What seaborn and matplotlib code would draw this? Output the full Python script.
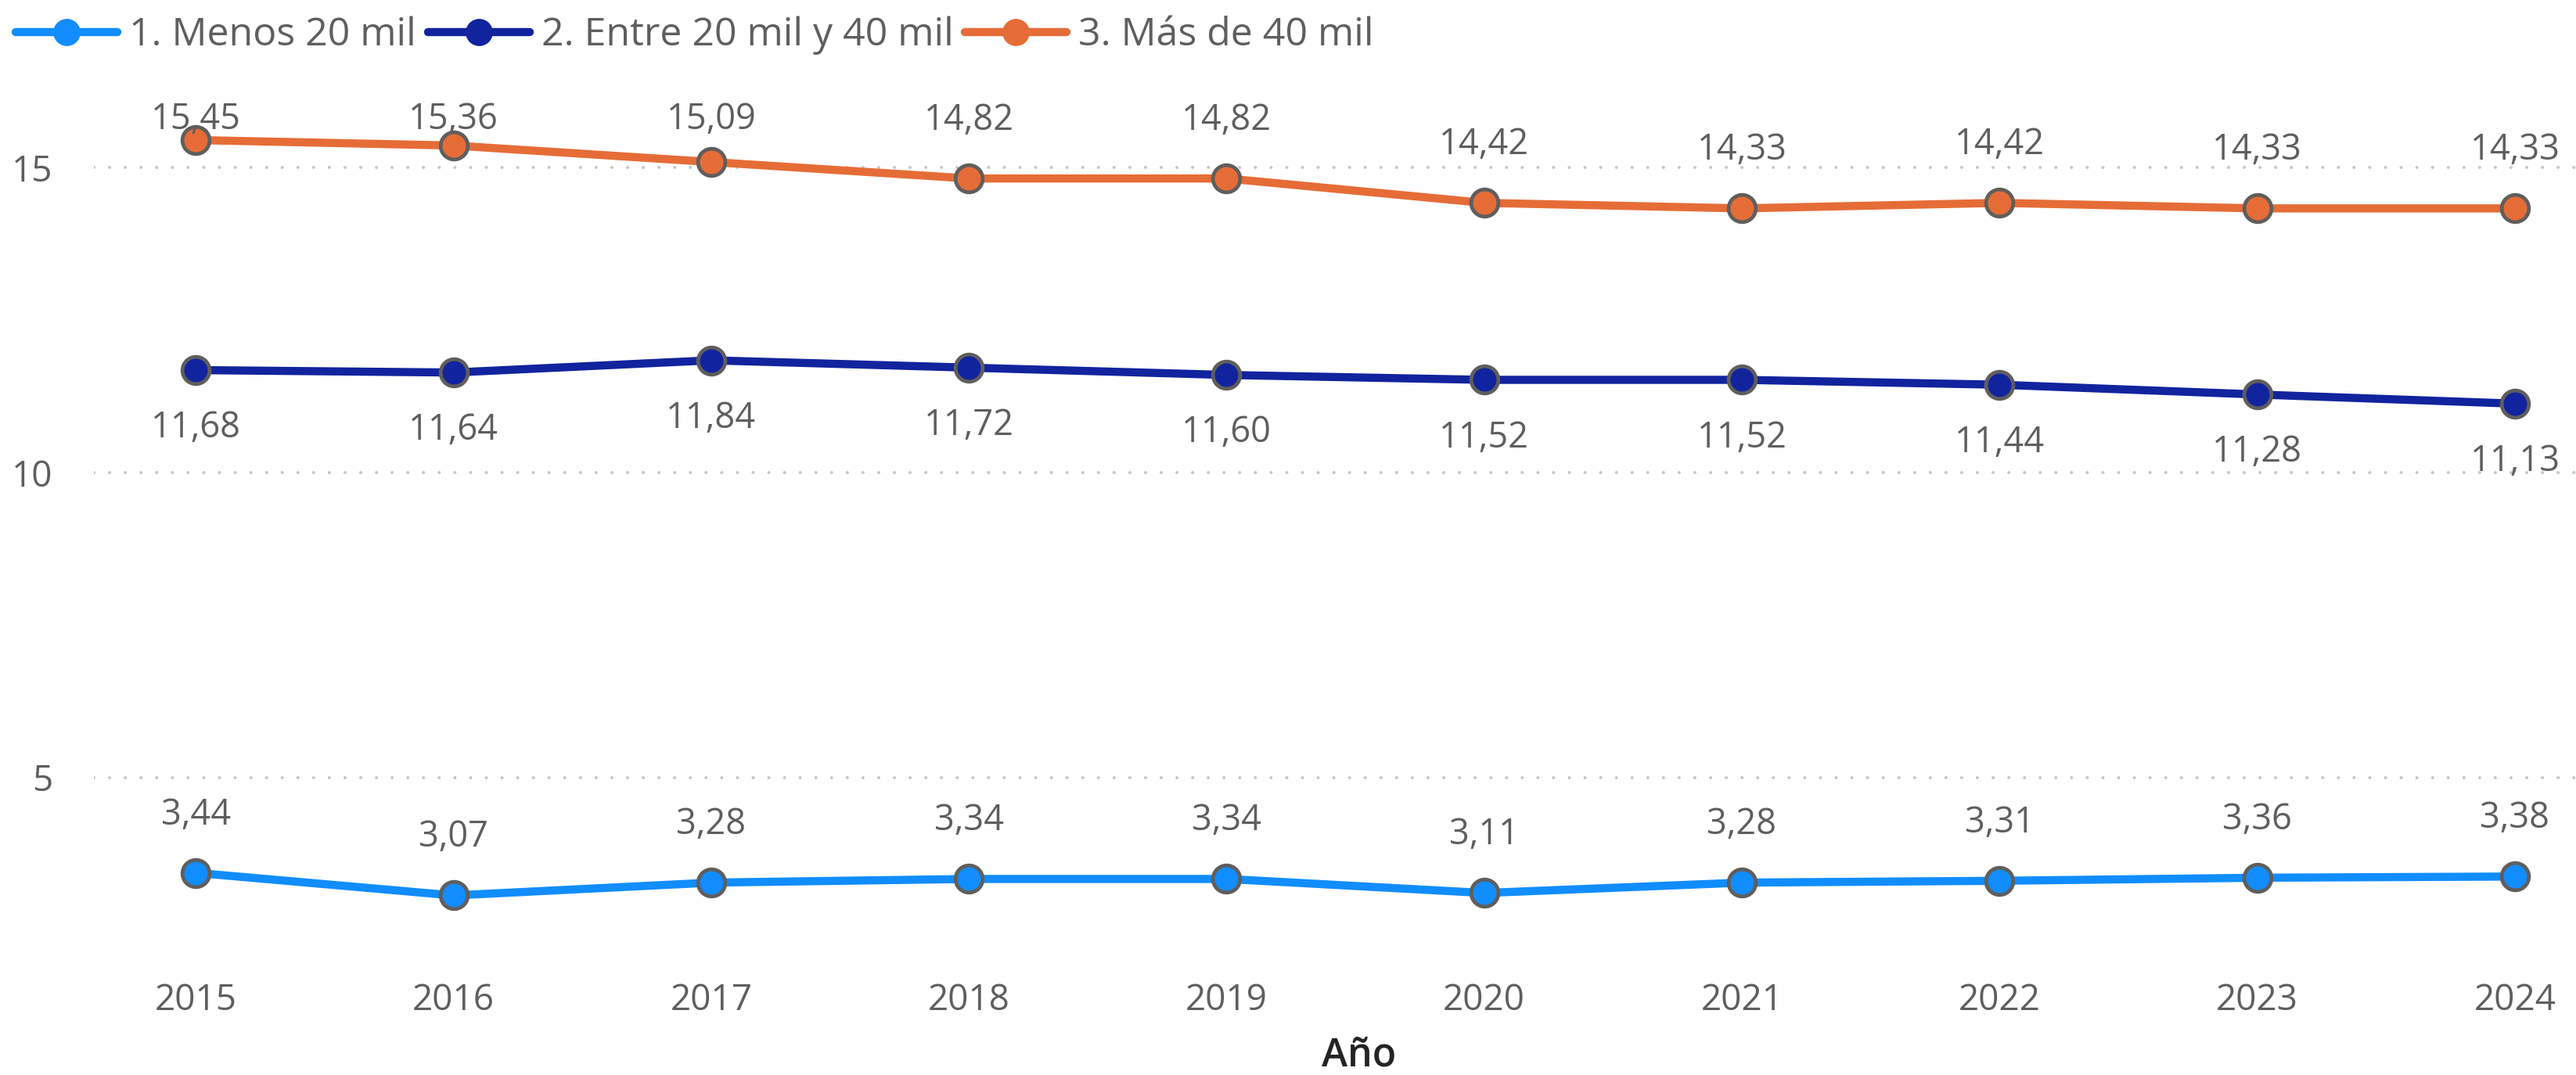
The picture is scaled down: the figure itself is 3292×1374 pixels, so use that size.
import matplotlib
matplotlib.use("Agg")
import matplotlib.pyplot as plt
import seaborn as sns
import pandas as pd
from matplotlib.lines import Line2D

years = [2015, 2016, 2017, 2018, 2019, 2020, 2021, 2022, 2023, 2024]
menos20 = [3.44, 3.07, 3.28, 3.34, 3.34, 3.11, 3.28, 3.31, 3.36, 3.38]
entre20_40 = [11.68, 11.64, 11.84, 11.72, 11.60, 11.52, 11.52, 11.44, 11.28, 11.13]
mas40 = [15.45, 15.36, 15.09, 14.82, 14.82, 14.42, 14.33, 14.42, 14.33, 14.33]
series_names = ["1. Menos 20 mil", "2. Entre 20 mil y 40 mil", "3. Más de 40 mil"]
colors = ["#118DFF", "#12239E", "#E66C37"]
yticks = [5, 10, 15]

sns.set_theme(style="white")
plt.rcParams["font.family"] = ["Open Sans", "DejaVu Sans"]
TXT = "#605E5C"

df = pd.concat([
    pd.DataFrame({"Año": years, "valor": vals, "serie": name})
    for name, vals in zip(series_names, [menos20, entre20_40, mas40])
])

fig = plt.figure(figsize=(32.92, 13.74), dpi=100)
ax = fig.add_axes([0.0365, 0.1063, 0.9635, 0.8253])

sns.lineplot(data=df, x="Año", y="valor", hue="serie", palette=colors,
             hue_order=series_names, ax=ax, linewidth=7.5, marker="o",
             markersize=25, markeredgecolor="#605E5C", markeredgewidth=3.4,
             legend=False, zorder=3)

ax.set_xlim(2014.605, 2024.237)
ax.set_ylim(2.0, 16.54)
ax.set_xticks(years)
ax.set_xticklabels([str(y) for y in years])
ax.set_yticks(yticks)
ax.set_yticklabels([str(t) for t in yticks])
ax.tick_params(axis="both", colors=TXT, labelsize=33, length=0)
ax.tick_params(axis="y", pad=38)
ax.tick_params(axis="x", pad=20)
for s in ax.spines.values():
    s.set_visible(False)
ax.grid(axis="y", color="#C8C6C4", linestyle=(0, (0.01, 4.97)), linewidth=2.9)
for gl in ax.get_ygridlines():
    gl.set_dash_capstyle("round")
ax.grid(axis="x", visible=False)
ax.set_ylabel("")
ax.set_xlabel("Año", fontsize=36, color="#252423", fontweight="semibold")
ax.xaxis.set_label_coords(0.5095, -0.085)

def fmt(v):
    return f"{v:.2f}".replace(".", ",")

off = 0.95
LS = 32.5
for x, v in zip(years, menos20):
    ax.text(x, v + off, fmt(v), ha="center", va="center", fontsize=LS, color=TXT, zorder=4)
for x, v in zip(years, entre20_40):
    ax.text(x, v - off, fmt(v), ha="center", va="center", fontsize=LS, color=TXT, zorder=4)
for x, v in zip(years, mas40):
    ax.text(x, min(v + off, 15.78), fmt(v), ha="center", va="center", fontsize=LS, color=TXT, zorder=4)

handles = [Line2D([0], [0], color=c, linewidth=7.5, marker="o", markersize=24,
                  markeredgecolor=c) for c in colors]
fig.legend(handles, series_names, loc="upper left", bbox_to_anchor=(0.006, 0.985),
           ncol=3, frameon=False, fontsize=36, labelcolor=TXT, handlelength=2.6,
           handletextpad=0.3, columnspacing=0.3, borderpad=0, borderaxespad=0)

fig.savefig("out.png", dpi=100)
